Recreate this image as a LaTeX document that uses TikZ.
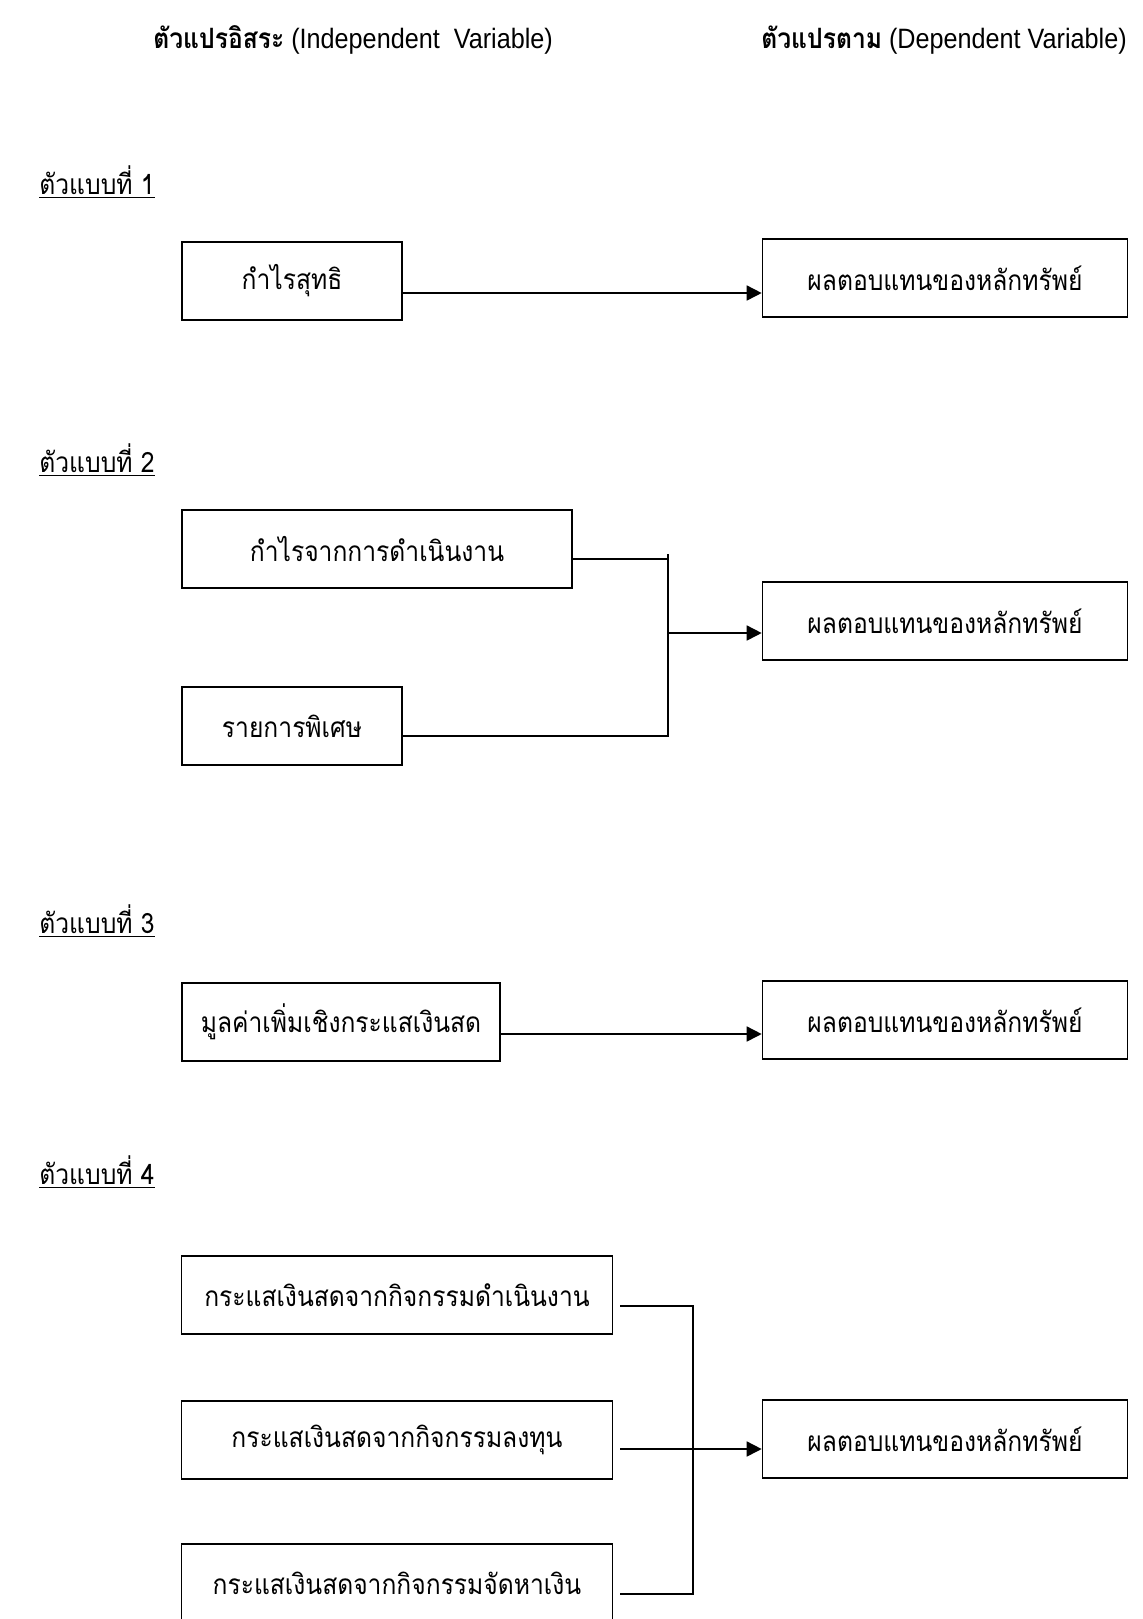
\documentclass[tikz,border=0pt]{standalone}
\usepackage{fontspec}
\setmainfont{Liberation Sans}[FakeStretch=0.9]
\newfontfamily\thaifont[Script=Thai, FakeStretch=0.88]{Loma}
\usetikzlibrary{arrows.meta, positioning, calc}

\begin{document}
\begin{tikzpicture}[
    x=0.5pt, y=-0.5pt,
    every node/.style={font=\thaifont\fontsize{14}{16}\selectfont},
    box/.style={rectangle, draw, line width=0.8pt, minimum height=39pt, inner sep=0pt, align=center},
    rbox/.style={box, minimum width=182.5pt},
    heading/.style={anchor=west, inner sep=0pt, font=\fontsize{14}{17}\selectfont},
    model/.style={anchor=west, inner sep=0pt},
    link/.style={line width=0.8pt},
    arrow/.style={link, -{Triangle[length=7.5pt, width=7.5pt]}},
]
\useasboundingbox (0,0) rectangle (1142,1619);

% headings
\node[heading] (indep) at (153,40) {{\thaifont\bfseries ตัวแปรอิสระ} (Independent\ \ Variable)};
\node[heading] (dep) at (761,40) {{\thaifont\bfseries ตัวแปรตาม} (Dependent Variable)};

% model 1
\node[model] (m1) at (39,182) {\underline{ตัวแบบที่ 1}};
\node[box, minimum width=110pt] (net) at (292,281) {กำไรสุทธิ};
\node[rbox] (ret1) at (945,278) {ผลตอบแทนของหลักทรัพย์};
\draw[arrow] ([yshift=-6pt]net.east) -- ([yshift=-6pt]net.east -| ret1.west);

% model 2
\node[model] (m2) at (39,460) {\underline{ตัวแบบที่ 2}};
\node[box, minimum width=195pt] (opr) at (377,549) {กำไรจากการดำเนินงาน};
\node[box, minimum width=110pt] (spc) at (292,726) {รายการพิเศษ};
\node[rbox] (ret2) at (945,621) {ผลตอบแทนของหลักทรัพย์};
\coordinate (j2) at (668,554);
\draw[link] ([yshift=-5pt]opr.east) -- ([yshift=-5pt]opr.east -| j2);
\draw[link] ([yshift=-5pt]spc.east) -| (j2);
\draw[arrow] ([yshift=-6pt]ret2.west -| j2) -- ([yshift=-6pt]ret2.west);

% model 3
\node[model] (m3) at (39,921) {\underline{ตัวแบบที่ 3}};
\node[box, minimum width=159pt] (cva) at (341,1022) {มูลค่าเพิ่มเชิงกระแสเงินสด};
\node[rbox] (ret3) at (945,1020) {ผลตอบแทนของหลักทรัพย์};
\draw[arrow] ([yshift=-6pt]cva.east) -- ([yshift=-6pt]cva.east -| ret3.west);

% model 4
\node[model] (m4) at (39,1172) {\underline{ตัวแบบที่ 4}};
\node[box, minimum width=215.5pt] (cfo) at (397,1295) {กระแสเงินสดจากกิจกรรมดำเนินงาน};
\node[box, minimum width=215.5pt] (cfi) at (397,1440) {กระแสเงินสดจากกิจกรรมลงทุน};
\node[box, minimum width=215.5pt] (cff) at (397,1583) {กระแสเงินสดจากกิจกรรมจัดหาเงิน};
\node[rbox] (ret4) at (945,1439) {ผลตอบแทนของหลักทรัพย์};
\coordinate (j4) at (693,1449);
\draw[link] ([xshift=3.5pt, yshift=-5.5pt]cfo.east) -| (j4) |- ([xshift=3.5pt, yshift=-5.5pt]cff.east);
\draw[link] ([xshift=3.5pt, yshift=-4.5pt]cfi.east) -- (j4);
\draw[arrow] (j4) -- (j4 -| ret4.west);
\end{tikzpicture}
\end{document}
